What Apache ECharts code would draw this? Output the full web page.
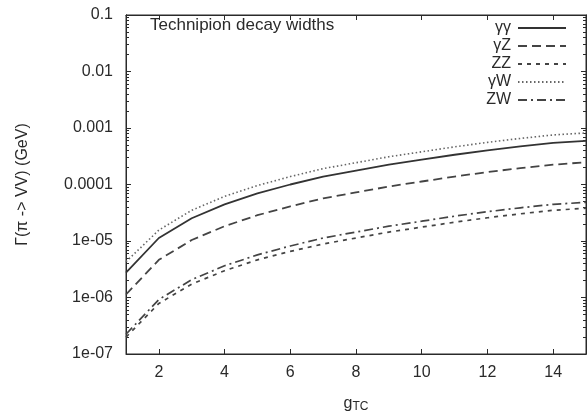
<!DOCTYPE html>
<html>
<head>
<meta charset="utf-8">
<script src="https://cdn.jsdelivr.net/npm/echarts@6/dist/echarts.min.js"></script>
<style>html,body{margin:0;padding:0;background:#fff}#c{width:588px;height:418px}</style>
</head>
<body>
<div id="c"></div>
<script>
var gTC = [1,2,3,4,5,6,7,8,9,10,11,12,13,14,15];
var gammaGamma = [2.75e-6,1.13e-5,2.53e-5,4.46e-5,6.95e-5,1.0e-4,1.38e-4,1.76e-4,2.24e-4,2.75e-4,3.36e-4,4.03e-4,4.73e-4,5.46e-4,5.91e-4];
var gammaZ = [1.13e-6,4.64e-6,1.04e-5,1.83e-5,2.86e-5,4.11e-5,5.68e-5,7.24e-5,9.2e-5,1.13e-4,1.38e-4,1.66e-4,1.95e-4,2.24e-4,2.48e-4];
var zZ = [1.99e-7,7.85e-7,1.73e-6,2.98e-6,4.64e-6,6.55e-6,8.86e-6,1.13e-5,1.44e-5,1.76e-5,2.15e-5,2.58e-5,3.03e-5,3.5e-5,3.8e-5];
var gammaW = [4.3e-6,1.56e-5,3.5e-5,6.15e-5,9.6e-5,1.38e-4,1.91e-4,2.43e-4,3.1e-4,3.79e-4,4.64e-4,5.57e-4,6.54e-4,7.53e-4,8.17e-4];
var zW = [2.24e-7,9.2e-7,2.07e-6,3.64e-6,5.68e-6,8.17e-6,1.13e-5,1.44e-5,1.83e-5,2.24e-5,2.75e-5,3.3e-5,3.87e-5,4.46e-5,4.83e-5];
var seriesNames = ['γγ','γZ','ZZ','γW','ZW'];
var xTicks = [2,4,6,8,10,12,14];
var yTickValues = [1e-7,1e-6,1e-5,1e-4,1e-3,1e-2,1e-1];
var yTickLabels = ['1e-07','1e-06','1e-05','0.0001','0.001','0.01','0.1'];

var yMinor = [];
for (var e = -7; e < -1; e++) { for (var m = 2; m <= 9; m++) { yMinor.push(m * Math.pow(10, e)); } }

function pairs(ys){ return gTC.map(function(x,i){ return [x, ys[i]]; }); }

var font = 'Liberation Sans, Arial, sans-serif';
var axisCol = '#2a2a2a';
var textCol = '#2a2a2a';

function yAx(pos, ticks, len, showLabel){
  return {
    type:'log', logBase:10, min:1e-7, max:0.1, position: pos,
    axisLine:{show:true, lineStyle:{color:axisCol, width:1}},
    axisTick:{show:true, inside:true, length:len, customValues: ticks, lineStyle:{color:axisCol}},
    axisLabel:{show:showLabel, customValues: ticks, fontFamily:font, fontSize:16, color:textCol, margin:13,
      formatter:function(v){ for (var i=0;i<yTickValues.length;i++){ if (Math.abs(Math.log10(v)-Math.log10(yTickValues[i]))<1e-6) return yTickLabels[i]; } return ''; }},
    splitLine:{show:false}
  };
}

var chart = echarts.init(document.getElementById('c'), null, {renderer:'canvas'});
var styles = [
  {type:'solid', color:'#333', width:1.8},
  {type:[9,5], color:'#444', width:1.8},
  {type:[4,5], color:'#444', width:1.7},
  {type:[1.5,2.5], color:'#666', width:1.6},
  {type:[9,4,2,4], color:'#444', width:1.7}
];
var data = [gammaGamma, gammaZ, zZ, gammaW, zW];
var series = data.map(function(d,i){
  return {name:seriesNames[i], type:'line', xAxisIndex:0, yAxisIndex:0, data:pairs(d),
    symbol:'none', silent:true, animation:false, lineStyle:styles[i], itemStyle:{color:styles[i].color}};
});

chart.setOption({
  animation:false,
  backgroundColor:'#fff',
  title:{text:'Technipion decay widths', left:145, top:12, textStyle:{fontFamily:font, fontSize:17, fontWeight:'normal', color:textCol}},
  legend:{orient:'vertical', right:21, top:20, padding:0, align:'right', itemWidth:48, itemHeight:10, itemGap:2,
    itemStyle:{opacity:0},
    textStyle:{fontFamily:font, fontSize:16, lineHeight:14, color:textCol, padding:[0,2,0,0]}, data:seriesNames},
  grid:{left:126, right:2, top:15, bottom:61, show:true, borderColor:axisCol, borderWidth:1, backgroundColor:'transparent'},
  xAxis:[
    {type:'value', min:1, max:15, position:'bottom',
      name:'{g|g}{s|TC}', nameLocation:'middle', nameGap:40,
      nameTextStyle:{rich:{g:{fontFamily:font, fontSize:16, color:textCol}, s:{fontFamily:font, fontSize:12, color:textCol, padding:[7,0,0,0]}}},
      axisLine:{show:true, lineStyle:{color:axisCol}},
      axisTick:{show:true, inside:true, length:5, customValues:xTicks, lineStyle:{color:axisCol}},
      axisLabel:{customValues:xTicks, fontFamily:font, fontSize:16, color:textCol, margin:11},
      splitLine:{show:false}},
    {type:'value', min:1, max:15, position:'top',
      axisLine:{show:true, lineStyle:{color:axisCol}},
      axisTick:{show:true, inside:true, length:5, customValues:xTicks, lineStyle:{color:axisCol}},
      axisLabel:{show:false}, splitLine:{show:false}}
  ],
  yAxis:[
    Object.assign(yAx('left', yTickValues, 5, true), {name:'Γ(π -> VV) (GeV)', nameLocation:'middle', nameGap:95,
      nameTextStyle:{fontFamily:font, fontSize:16, color:textCol}}),
    yAx('right', yTickValues, 5, false),
    yAx('left', yMinor, 3, false),
    yAx('right', yMinor, 3, false)
  ],
  series:series
});
</script>
</body>
</html>
